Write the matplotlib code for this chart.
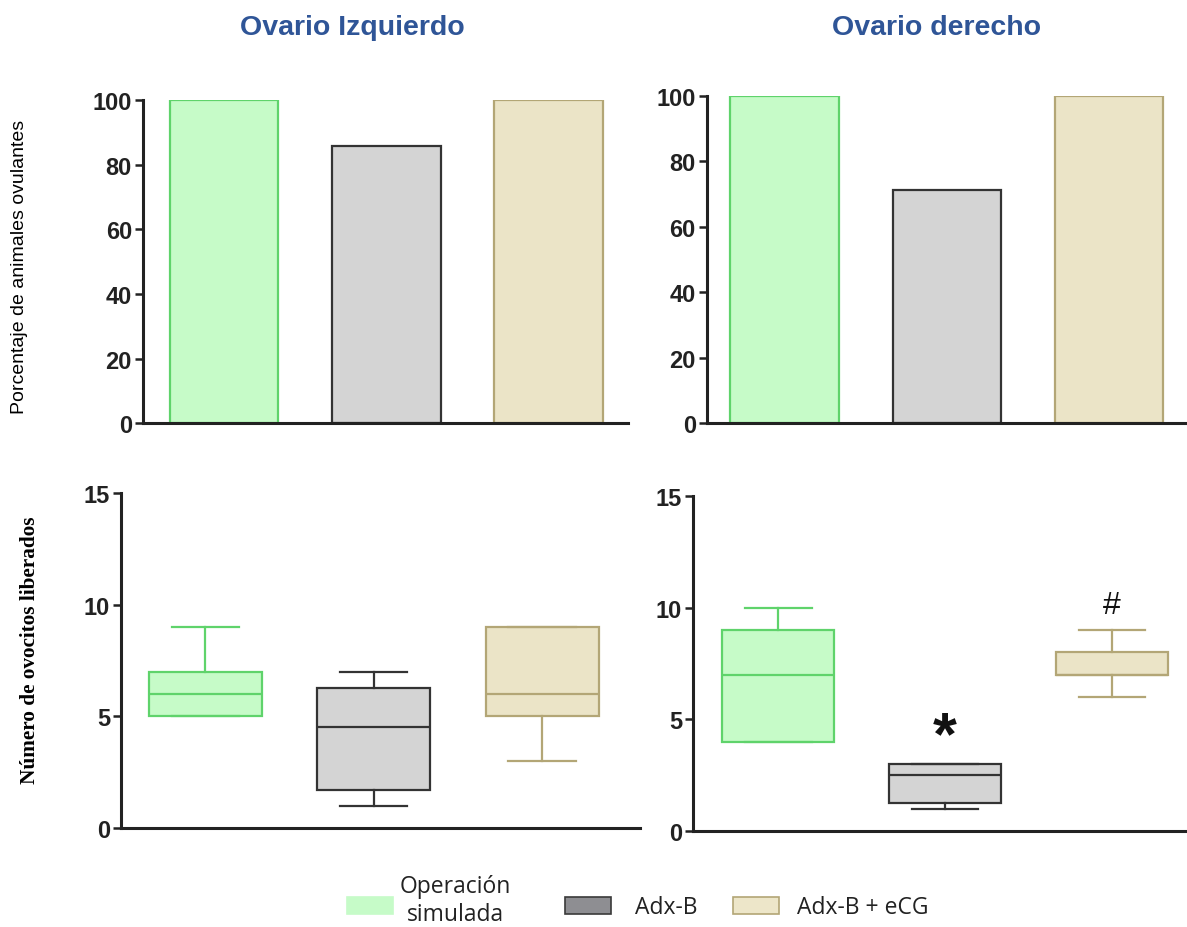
import matplotlib.pyplot as plt
from matplotlib.patches import Rectangle

groups = ["Operación\nsimulada", "Adx-B", "Adx-B + eCG"]
fills = ["#c6fbc8", "#d4d4d4", "#ebe4c7"]
edges = ["#5fd36b", "#333333", "#b3a676"]

# porcentaje de animales ovulantes
pct_izq = [100, 85.7, 100]
pct_der = [100, 71.4, 100]

# ovocitos liberados: (whislo, q1, med, q3, whishi)
ovo_izq = [(5, 5, 6, 7, 9), (1, 1.7, 4.5, 6.25, 7), (3, 5, 6, 9, 9)]
ovo_der = [(4, 4, 7, 9, 10), (1, 1.25, 2.5, 3, 3), (6, 7, 7, 8, 9)]
marks_der = ["", "*", "#"]

plt.rcParams["font.family"] = "Liberation Sans"
fig = plt.figure(figsize=(11.87, 9.28), dpi=100)


def style(ax, ymax, step, left, right):
    ax.set_ylim(0, ymax)
    ax.set_xlim(left, right)
    ax.set_yticks(range(0, ymax + 1, step))
    ax.set_xticks([])
    for s in ["top", "right"]:
        ax.spines[s].set_visible(False)
    for s in ["left", "bottom"]:
        ax.spines[s].set_linewidth(2.2)
        ax.spines[s].set_color("#222222")
    ax.tick_params(axis="y", length=6, width=1.8, color="#222222", labelsize=17, pad=2)
    for t in ax.get_yticklabels():
        t.set_fontweight("bold")
        t.set_color("#222222")


def bars(ax, vals):
    ax.bar(range(3), vals, width=0.67, color=fills, edgecolor=edges, linewidth=1.6)


def boxes(ax, data):
    for i, (lo, q1, med, q3, hi) in enumerate(data):
        st = [dict(whislo=lo, q1=q1, med=med, q3=q3, whishi=hi, fliers=[])]
        c = edges[i]
        ax.bxp(st, positions=[i], widths=0.67, capwidths=0.4, patch_artist=True,
               showfliers=False,
               boxprops=dict(facecolor=fills[i], edgecolor=c, linewidth=1.6),
               medianprops=dict(color=c, linewidth=1.6),
               whiskerprops=dict(color=c, linewidth=1.6),
               capprops=dict(color=c, linewidth=1.6))


ax1 = fig.add_axes([0.1205, 0.543, 0.4085, 0.348])
bars(ax1, pct_izq)
style(ax1, 100, 20, -0.5, 2.49)

ax2 = fig.add_axes([0.5956, 0.543, 0.4044, 0.3525])
bars(ax2, pct_der)
style(ax2, 100, 20, -0.48, 2.48)

ax3 = fig.add_axes([0.102, 0.1067, 0.437, 0.361])
boxes(ax3, ovo_izq)
style(ax3, 15, 5, -0.5, 2.58)

ax4 = fig.add_axes([0.584, 0.1034, 0.416, 0.361])
boxes(ax4, ovo_der)
style(ax4, 15, 5, -0.51, 2.45)
for i, m in enumerate(marks_der):
    if m == "*":
        ax4.text(i, ovo_der[i][4] - 0.1, m, ha="center", va="bottom",
                 fontsize=44, fontweight="bold", color="#111111")
    elif m:
        ax4.text(i, ovo_der[i][4] + 0.45, m, ha="center", va="bottom",
                 fontsize=23, color="#111111")

title_kw = dict(ha="center", va="center", fontsize=20.5, fontweight="bold", color="#2f5597")
fig.text(352 / 1187, 1 - 28 / 928, "Ovario Izquierdo", **title_kw)
fig.text(937 / 1187, 1 - 28 / 928, "Ovario derecho", **title_kw)

fig.text(20 / 1187, 1 - 267 / 928, "Porcentaje de animales ovulantes", rotation=90,
         ha="center", va="center", fontsize=14, family="Liberation Sans")
fig.text(30 / 1187, 1 - 650 / 928, "Número de ovocitos liberados", rotation=90,
         ha="center", va="center", fontsize=15.3, family="Liberation Serif",
         fontweight="bold")

# leyenda
leg_fill = ["#c6fbc8", "#8e8e92", "#ede6c9"]
leg_edge = ["#c6fbc8", "#3a3a3a", "#b3a676"]
leg_x = [347, 565, 733]
leg_tx = [455, 635, 797]
for fc, ec, x, tx, g in zip(leg_fill, leg_edge, leg_x, leg_tx, groups):
    fig.patches.append(Rectangle((x / 1187, 1 - 915 / 928), 46 / 1187, 17 / 928,
                                 facecolor=fc, edgecolor=ec, linewidth=1.2,
                                 transform=fig.transFigure, figure=fig))
    two = "\n" in g
    fig.text(tx / 1187, 1 - (901 if two else 908) / 928, g,
             ha="center" if two else "left", va="center", fontsize=16.5,
             family="Open Sans", color="#222222", linespacing=1.2)

fig.savefig("out.png", dpi=100)
